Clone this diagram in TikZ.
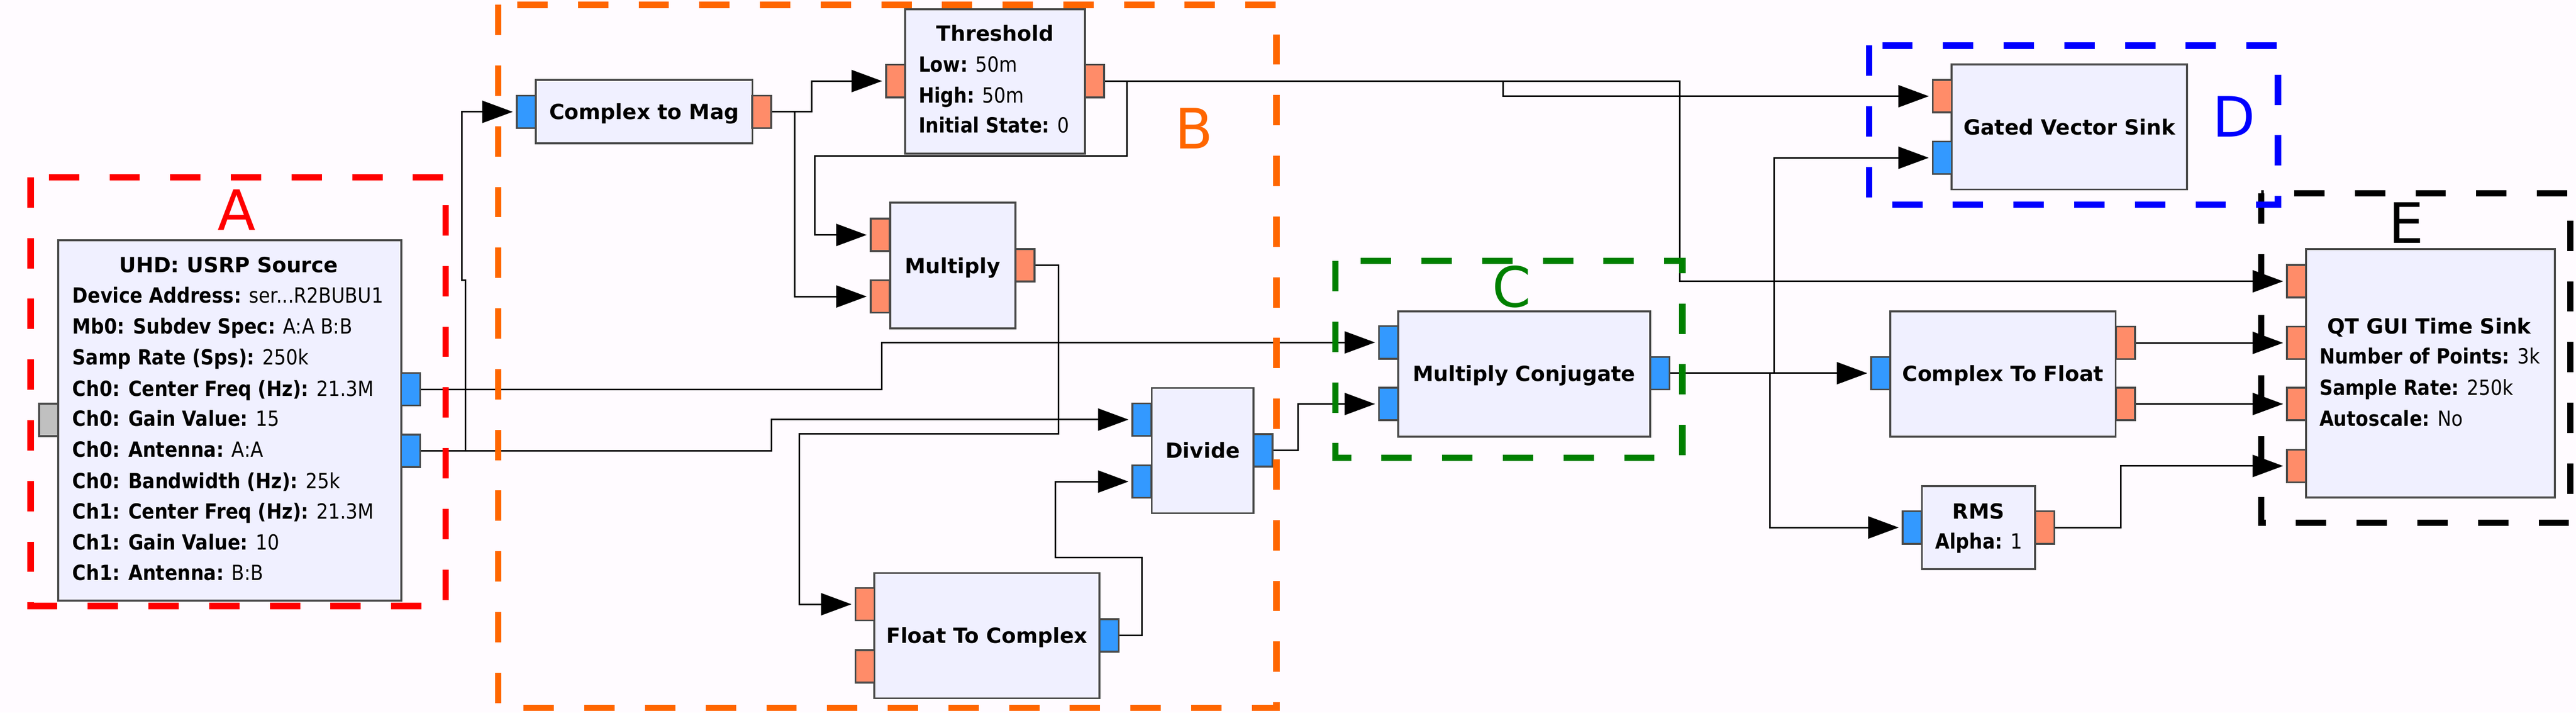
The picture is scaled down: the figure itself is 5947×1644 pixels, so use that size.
\documentclass[tikz,border=0pt]{standalone}
\usepackage{fontspec}
\setmainfont{DejaVu Sans}
\newfontfamily\parfamily{DejaVu Sans}[FakeStretch=0.89]
\usetikzlibrary{arrows.meta}

\definecolor{canvas}{HTML}{FFFBFF}
\definecolor{blockfill}{HTML}{F0F0FF}
\definecolor{blockedge}{HTML}{4A4A4A}
\definecolor{portblue}{HTML}{3399FF}
\definecolor{portorange}{HTML}{FF8C69}
\definecolor{portgray}{HTML}{C0C0C0}
\definecolor{grporange}{HTML}{FF6600}
\definecolor{grpgreen}{HTML}{008000}

\newcommand{\blkfont}{\fontsize{13.7pt}{16pt}\selectfont}
\newcommand{\parfont}{\fontsize{13.7pt}{16pt}\parfamily}
\newcommand{\grpfont}{\fontsize{36.5pt}{40pt}\selectfont}

\tikzset{
  block/.style={draw=blockedge, fill=blockfill, line width=1.3pt, inner sep=0pt,
    font=\blkfont\bfseries, text height=10pt, text depth=0pt},
  port/.style={draw=blockedge, line width=1.2pt, inner sep=0pt,
    minimum width=0.44cm, minimum height=0.75cm},
  blueport/.style={port, fill=portblue},
  orangeport/.style={port, fill=portorange},
  grayport/.style={port, fill=portgray},
  title/.style={inner sep=0pt, font=\blkfont\bfseries, text height=10pt, text depth=0pt},
  param/.style={anchor=west, inner sep=0pt, font=\parfont, text height=10pt, text depth=0pt},
  wire/.style={line width=1pt, draw=black},
  sig/.style={wire, -{Triangle[length=20pt,width=14.5pt]}, shorten >=2pt},
  grp/.style={line width=0.15cm, dash pattern=on 0.7cm off 0.7cm},
  grplabel/.style={inner sep=0pt, font=\grpfont, text height=26.6pt, text depth=0pt}
}

\begin{document}
\begin{tikzpicture}[x=0.01cm, y=-0.01cm]
  \useasboundingbox (0,0) rectangle (5947,1644);
  \fill[canvas] (0,0) rectangle (5947,1644);

  % source
  \node[block, minimum width=7.91cm, minimum height=8.31cm] (usrp) at (530.5,969.5) {};
  \node[grayport] (u_in) at (112.5,968.5) {};
  \node[blueport] (u_out1) at (948,898) {};
  \node[blueport] (u_out2) at (948,1040) {};
  \node[title] (usrp_t) at (528,611) {UHD: USRP Source};
  \node[param] (usrp_p1) at (167,681) {\textbf{Device Address:} ser...R2BUBU1};
  \node[param] (usrp_p2) at (167,753) {\textbf{Mb0: Subdev Spec:} A:A B:B};
  \node[param] (usrp_p3) at (167,824) {\textbf{Samp Rate (Sps):} 250k};
  \node[param] (usrp_p4) at (167,896) {\textbf{Ch0: Center Freq (Hz):} 21.3M};
  \node[param] (usrp_p5) at (167,966) {\textbf{Ch0: Gain Value:} 15};
  \node[param] (usrp_p6) at (167,1037) {\textbf{Ch0: Antenna:} A:A};
  \node[param] (usrp_p7) at (167,1109) {\textbf{Ch0: Bandwidth (Hz):} 25k};
  \node[param] (usrp_p8) at (167,1179) {\textbf{Ch1: Center Freq (Hz):} 21.3M};
  \node[param] (usrp_p9) at (167,1251) {\textbf{Ch1: Gain Value:} 10};
  \node[param] (usrp_p10) at (167,1321) {\textbf{Ch1: Antenna:} B:B};

  % gate chain
  \node[block, minimum width=5.00cm, minimum height=1.47cm] (ctm) at (1487,257.5) {Complex to Mag};
  \node[blueport] (ctm_in) at (1215,258) {};
  \node[orangeport] (ctm_out) at (1758.5,258) {};

  \node[block, minimum width=4.15cm, minimum height=3.33cm] (thr) at (2297.5,187.5) {};
  \node[orangeport] (thr_in) at (2067.5,187) {};
  \node[orangeport] (thr_out) at (2527,187) {};
  \node[title] (thr_t) at (2297.5,77) {Threshold};
  \node[param] (thr_p1) at (2120,148) {\textbf{Low:} 50m};
  \node[param] (thr_p2) at (2120,220) {\textbf{High:} 50m};
  \node[param] (thr_p3) at (2120,289) {\textbf{Initial State:} 0};

  \node[block, minimum width=2.89cm, minimum height=2.90cm] (mul) at (2199.5,613) {Multiply};
  \node[orangeport] (mul_in1) at (2032,542) {};
  \node[orangeport] (mul_in2) at (2032,684) {};
  \node[orangeport] (mul_out) at (2366,612) {};

  \node[block, minimum width=5.19cm, minimum height=2.89cm] (ftc) at (2278.5,1466.5) {Float To Complex};
  \node[orangeport] (ftc_in1) at (1997,1394) {};
  \node[orangeport] (ftc_in2) at (1997,1537) {};
  \node[blueport] (ftc_out) at (2560.5,1466) {};

  \node[block, minimum width=2.35cm, minimum height=2.89cm] (dv) at (2776.5,1039.5) {Divide};
  \node[blueport] (dv_in1) at (2636.5,968) {};
  \node[blueport] (dv_in2) at (2636.5,1111) {};
  \node[blueport] (dv_out) at (2916,1039) {};

  % correlation
  \node[block, minimum width=5.81cm, minimum height=2.89cm] (mc) at (3518.5,862.5) {Multiply Conjugate};
  \node[blueport] (mc_in1) at (3205.5,790) {};
  \node[blueport] (mc_in2) at (3205.5,932) {};
  \node[blueport] (mc_out) at (3832,861) {};

  % sinks
  \node[block, minimum width=5.43cm, minimum height=2.88cm] (gvs) at (4777.5,293) {Gated Vector Sink};
  \node[orangeport] (gvs_in1) at (4484,222) {};
  \node[blueport] (gvs_in2) at (4484,364) {};

  \node[block, minimum width=5.20cm, minimum height=2.89cm] (ctf) at (4624,862.5) {Complex To Float};
  \node[blueport] (ctf_in) at (4342,861) {};
  \node[orangeport] (ctf_out1) at (4906.5,791) {};
  \node[orangeport] (ctf_out2) at (4906.5,932) {};

  \node[block, minimum width=2.61cm, minimum height=1.91cm] (rms) at (4567.5,1217.5) {};
  \node[blueport] (rms_in) at (4414.5,1217) {};
  \node[orangeport] (rms_out) at (4720.5,1217) {};
  \node[title] (rms_t) at (4567.5,1180) {RMS};
  \node[param] (rms_p1) at (4467,1248) {\textbf{Alpha:} 1};

  \node[block, minimum width=5.74cm, minimum height=5.73cm] (qt) at (5611,861.5) {};
  \node[orangeport] (qt_in1) at (5302,649) {};
  \node[orangeport] (qt_in2) at (5302,791) {};
  \node[orangeport] (qt_in3) at (5302,932) {};
  \node[orangeport] (qt_in4) at (5302,1075) {};
  \node[title] (qt_t) at (5608,752) {QT GUI Time Sink};
  \node[param] (qt_p1) at (5354,822) {\textbf{Number of Points:} 3k};
  \node[param] (qt_p2) at (5354,894) {\textbf{Sample Rate:} 250k};
  \node[param] (qt_p3) at (5354,965) {\textbf{Autoscale:} No};

  % connections
  \draw[sig] (u_out1.east) -- ++(1064,0) |- (mc_in1.west);
  \draw[sig] (u_out2.east) -- ++(103,0) -- ++(0,-394) -- ++(-9,0) |- (ctm_in.west);
  \draw[sig] (u_out2.east) -- ++(809,0) |- (dv_in1.west);
  \draw[sig] (ctm_out.east) -- ++(91,0) |- (thr_in.west);
  \draw[sig] (ctm_out.east) -- ++(52,0) |- (mul_in2.west);
  \draw[sig] (thr_out.east) -- ++(1327,0) |- (qt_in1.west);
  \draw[sig] (thr_out.east) -- ++(51,0) |- (1881,360) |- (mul_in1.west);
  \draw[sig] (thr_out.east) -- ++(919,0) |- (gvs_in1.west);
  \draw[sig] (mul_out.east) -- ++(53,0) |- (1845,1001) |- (ftc_in1.west);
  \draw[sig] (ftc_out.east) -- ++(52,0) |- (2437,1286) |- (dv_in2.west);
  \draw[sig] (dv_out.east) -- ++(57,0) |- (mc_in2.west);
  \draw[sig] (mc_out.east) -- (ctf_in.west);
  \draw[sig] (mc_out.east) -- ++(239,0) |- (gvs_in2.west);
  \draw[sig] (mc_out.east) -- ++(230,0) |- (rms_in.west);
  \draw[sig] (ctf_out1.east) -- (qt_in2.west);
  \draw[sig] (ctf_out2.east) -- (qt_in3.west);
  \draw[sig] (rms_out.east) -- ++(152,0) |- (qt_in4.west);

  % groups
  \draw[grp, red] (71,409) rectangle (1029,1398);
  \node[grplabel, text=red] (labA) at (547,484) {A};
  \draw[grp, grporange] (1150,11) rectangle (2947,1633);
  \node[grplabel, text=grporange] (labB) at (2757,296) {B};
  \draw[grp, grpgreen] (3083,602) rectangle (3884,1056);
  \node[grplabel, text=grpgreen] (labC) at (3490,662) {C};
  \draw[grp, black] (5220,446) rectangle (5934,1206);
  \node[grplabel, text=black] (labE) at (5555,514) {E};
  \draw[grp, blue] (4315,105) rectangle (5259,472);
  \node[grplabel, text=blue] (labD) at (5157,269) {D};

\end{tikzpicture}
\end{document}
